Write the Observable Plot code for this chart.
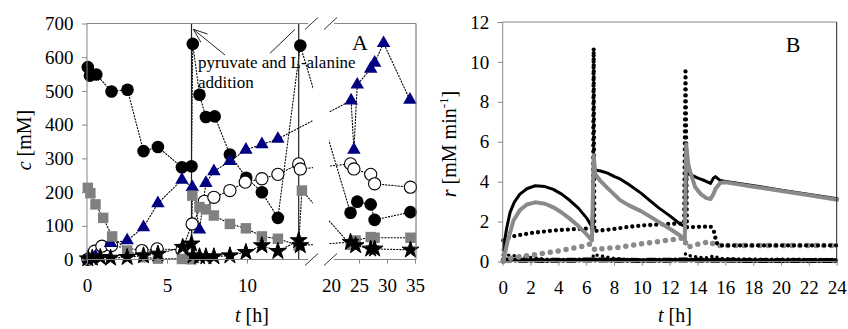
<!DOCTYPE html>
<html><head><meta charset="utf-8">
<script src="https://cdn.jsdelivr.net/npm/d3@7"></script>
<script src="https://cdn.jsdelivr.net/npm/@observablehq/plot@0.6"></script>
<style>
html,body{margin:0;padding:0;background:#fff;}
#wrap{position:relative;width:848px;height:329px;overflow:hidden;background:#fff;}
#wrap svg{position:absolute;top:0;background:transparent;}
</style></head><body><div id="wrap"></div>
<script>
// ---------- Panel A data (t in h, c in mM) ----------
const filledT = [0.02,0.15,0.55,1.5,2.5,3.5,4.4,5.9,6.5,6.58,7.0,7.4,7.95,8.9,9.92,10.9,11.9,13.3,23.4,24.6,27.0,27.7,34.1];
const filledC = [572,547,550,500,505,323,335,275,278,641,490,424,426,313,244,201,125,636,140,173,165,119,142];
const openT = [0.02,0.44,0.9,1.5,3.4,4.35,5.9,6.54,7.3,7.9,8.9,9.86,10.9,11.9,13.2,13.3,23.4,24.0,27.0,27.7,34.1];
const openC = [2,26,41,43,28,33,30,107,174,186,206,231,241,254,285,270,285,270,254,226,216];
const triT = [0.08,0.5,1.44,2.48,3.5,4.4,5.9,6.55,7.0,7.4,7.9,8.9,9.9,10.9,11.9,23.5,24.0,24.6,27.0,27.7,29.3,34.0];
const triC = [4,10,50,58,97,168,238,216,90,228,263,293,327,343,359,473,327,520,567,585,643,475];
const sqT = [0.02,0.18,0.5,0.98,1.54,2.48,3.5,4.4,5.9,6.5,6.55,7.0,7.4,7.9,8.9,9.9,10.9,11.9,13.2,13.4,23.4,24.3,27.0,27.7,34.1];
const sqC = [214,198,165,125,70,28,8,4,3,2,191,157,150,132,107,94,70,63,43,206,45,58,68,66,66];
const starT = [0.02,0.3,0.8,1.44,2.48,3.5,4.4,5.95,6.5,6.6,7.0,7.4,7.9,8.9,9.9,10.9,11.9,13.2,13.3,23.4,24.3,27.0,27.7,34.1];
const starC = [4,6,8,6,8,13,18,38,48,13,10,10,10,13,23,43,26,58,43,53,43,33,33,30];
const additionT = [6.5, 13.2];
const xTicksA = [0,5,10,20,25,30,35];
const yTicksA = [0,100,200,300,400,500,600,700];

// ---------- Panel B data (t in h, r in mM/min) ----------
const blackSolidT = [0,0.25,0.5,0.8,1.2,1.7,2.3,3.0,3.6,4.2,4.8,5.4,6.0,6.38,6.52,6.7,7.0,7.5,8.0,8.4,9.0,9.9,10.5,11.2,12.0,12.7,13.05,13.2,13.45,14.0,14.5,14.9,15.1,15.25,15.6,16,18,20,22,24];
const blackSolidR = [0.6,1.7,2.5,3.0,3.4,3.67,3.82,3.78,3.64,3.4,3.08,2.7,2.2,1.76,4.62,4.6,4.56,4.45,4.28,4.16,3.9,3.45,3.1,2.7,2.3,1.91,1.78,4.45,4.38,4.2,4.07,3.94,4.2,4.28,4.08,4.04,3.82,3.6,3.38,3.17];
const graySolidT = [0,0.3,0.74,1.2,1.7,2.3,3.0,3.6,4.2,4.8,5.4,6.0,6.38,6.5,6.62,7.0,7.5,8.4,9.0,9.9,10.5,11.2,12.0,12.7,13.05,13.15,13.3,13.45,13.8,14.2,14.6,14.9,15.1,15.25,15.6,16,18,20,22,24];
const graySolidR = [0,1.0,2.08,2.6,2.88,2.99,2.92,2.74,2.48,2.16,1.8,1.38,1.08,5.35,4.4,4.05,3.7,3.1,2.85,2.55,2.3,2.0,1.65,1.33,1.12,5.9,4.9,4.49,3.74,3.4,3.2,3.16,3.4,3.66,3.97,3.99,3.77,3.56,3.34,3.12];
const blackDotT = [0,0.5,1,2,3,4,5,6,6.45,6.5,6.55,7,8,9,10,11,12,13,13.1,13.2,14,14.9,15.1,15.2,15.3,15.5,18,21,24];
const blackDotR = [1.08,1.25,1.33,1.45,1.53,1.6,1.64,1.67,1.68,10.7,1.55,1.58,1.66,1.76,1.83,1.87,1.91,1.93,9.55,1.74,1.76,1.78,1.6,1.41,0.99,0.83,0.83,0.83,0.83];
const grayDotT = [0,0.5,1.2,2,3,4,4.8,5.7,6.3,6.6,7,8.4,9.6,10.8,12,13,13.2,14.1,14.9,15.2,18,21,24];
const grayDotR = [0.05,0.18,0.26,0.34,0.45,0.56,0.66,0.78,0.91,0.6,0.66,0.74,0.88,0.99,1.11,1.21,0.74,0.91,1.03,0.83,0.83,0.83,0.83];
const smallDotT = [0,0.5,1,2,3,4,6.4,6.5,7,8,9,10,13,13.1,13.5,14.5,15.2,15.5,17,24];
const smallDotR = [0.35,0.33,0.3,0.22,0.15,0.1,0.08,0.38,0.3,0.18,0.12,0.1,0.1,0.42,0.3,0.2,0.3,0.18,0.15,0.12];
const dashDotT = [0,3,6.5,10,13.1,17,24];
const dashDotR = [0.1,0.08,0.1,0.08,0.1,0.08,0.08];
const xTicksB = [0,2,4,6,8,10,12,14,16,18,20,22,24];
const yTicksB = [0,2,4,6,8,10,12];

// ---------- helpers ----------
const SERIF = '"Liberation Serif", "Times New Roman", serif';
const AX = "#858585";
const rows = (T, V) => T.map((t, i) => ({t, v: V[i]}));
const deco = fn => (index, scales, values, dims) => { const g = d3.create("svg:g").attr("text-anchor", "start"); fn(g, scales, dims); return g.node(); };
const line = (g, x1, y1, x2, y2, stroke, w = 1) => g.append("line").attr("x1", x1).attr("y1", y1).attr("x2", x2).attr("y2", y2).attr("stroke", stroke).attr("stroke-width", w);

// ---------- Panel A ----------
const dotted = {x: "t", y: "v", stroke: "black", strokeWidth: 1.1, strokeDasharray: "1.2,1.9"};
const plotA = Plot.plot({
  width: 424, height: 329, marginTop: 23.5, marginBottom: 69.5, marginLeft: 87, marginRight: 9,
  style: {fontFamily: SERIF, background: "transparent", overflow: "visible"},
  x: {type: "linear", domain: [0, 13.75, 19, 35], range: [87, 307, 325.4, 415], label: null},
  y: {domain: [0, 700], label: null},
  marks: [
    Plot.line(rows(filledT, filledC), dotted),
    Plot.line(rows(openT, openC), dotted),
    Plot.line(rows(triT, triC), dotted),
    Plot.line(rows(sqT, sqC), dotted),
    Plot.line(rows(starT, starC), dotted),
    // white gap of the broken axis
    deco((g) => { g.append("rect").attr("x", 313).attr("y", 10).attr("width", 16).attr("height", 262).attr("fill", "white"); }),
    Plot.ruleX(additionT, {y1: 0, y2: 700, stroke: "#222", strokeWidth: 1.2}),
    Plot.dot(rows(filledT, filledC), {x: "t", y: "v", r: 6.3, fill: "black"}),
    Plot.dot(rows(openT, openC), {x: "t", y: "v", r: 6.1, fill: "white", stroke: "black", strokeWidth: 1.1}),
    Plot.dot(rows(triT, triC), {x: "t", y: "v", r: 5, symbol: "triangle", fill: "#000080"}),
    Plot.dot(rows(sqT, sqC), {x: "t", y: "v", r: 5.9, symbol: "square", fill: "#808080"}),
    Plot.dot(rows(starT, starC), {x: "t", y: "v", r: 5.3, symbol: "star", fill: "black", stroke: "black", strokeWidth: 1}),
    deco((g, s) => {
      const yb = s.y(0), yt = s.y(700), xl = s.x(0);
      line(g, xl, yt, xl, yb, AX);
      line(g, xl, yb, 308, yb, AX); line(g, 334, yb, 416, yb, AX);
      line(g, xl, yt, 308, yt, AX); line(g, 334, yt, 416, yt, AX);
      line(g, 416, yt, 416, yb, "#666");
      for (const cx of [311.5, 330.5]) for (const cy of [yb, yt]) line(g, cx - 6.5, cy + 6, cx + 6.5, cy - 6, "#333");
      // annotation
      const t = g.append("text").attr("font-family", SERIF).attr("font-size", 17).attr("fill", "black").attr("text-anchor", "start");
      t.append("tspan").attr("x", 198).attr("y", 68).text("pyruvate and L-alanine");
      t.append("tspan").attr("x", 198).attr("y", 88).text("addition");
      line(g, 225, 55, 193.3, 29.3, "#222", 1);
      const ang = Math.atan2(55 - 29.3, 225 - 193.3);
      for (const d of [-0.36, 0.36]) line(g, 193.3, 29.3, 193.3 + 15 * Math.cos(ang + d), 29.3 + 15 * Math.sin(ang + d), "#222", 1);
      line(g, 270, 53.3, 295, 29.3, "#222", 1);
      g.append("text").attr("x", 360).attr("y", 50).attr("text-anchor", "middle").attr("font-family", SERIF).attr("font-size", 22).text("A");
      // axis titles
      const yl = g.append("text").attr("transform", "translate(31,140) rotate(-90)").attr("text-anchor", "middle").attr("font-family", SERIF).attr("font-size", 20);
      yl.append("tspan").attr("font-style", "italic").text("c");
      yl.append("tspan").text(" [mM]");
      const xlb = g.append("text").attr("x", 252).attr("y", 322).attr("text-anchor", "middle").attr("font-family", SERIF).attr("font-size", 20);
      xlb.append("tspan").attr("font-style", "italic").text("t");
      xlb.append("tspan").text(" [h]");
    }),
    Plot.axisY({ticks: yTicksA, tickSize: 5, tickPadding: 9, fontSize: 19, stroke: AX, fill: "black", label: null}),
    Plot.axisX({ticks: xTicksA.filter(d => d !== 20), tickSize: 4, tickFormat: () => "", stroke: AX, label: null}),
    Plot.axisX({ticks: xTicksA, tickSize: 4, tickPadding: 14.5, fontSize: 19, stroke: "none", fill: "black", label: null})
  ]
});

// ---------- Panel B ----------
const L = (T, V, o) => Plot.line(rows(T, V), {x: "t", y: "v", strokeLinecap: "round", strokeLinejoin: "round", ...o});
const plotB = Plot.plot({
  width: 424, height: 329, marginTop: 22, marginBottom: 67.5, marginLeft: 78.7, marginRight: 11.3,
  style: {fontFamily: SERIF, background: "transparent", overflow: "visible"},
  x: {domain: [0, 24], label: null},
  y: {domain: [0, 12], label: null},
  marks: [
    L(dashDotT, dashDotR, {stroke: "black", strokeWidth: 5, strokeDasharray: "8,4,0,4"}),
    L(smallDotT, smallDotR, {stroke: "black", strokeWidth: 3.5, strokeDasharray: "0,5.5"}),
    L(grayDotT, grayDotR, {stroke: "#8a8a8a", strokeWidth: 5.5, strokeDasharray: "0,8"}),
    L(blackDotT, blackDotR, {stroke: "black", strokeWidth: 4.3, strokeDasharray: "0,6"}),
    L(blackSolidT, blackSolidR, {stroke: "black", strokeWidth: 3}),
    L(graySolidT, graySolidR, {stroke: "#8a8a8a", strokeWidth: 4}),
    deco((g, s) => {
      const yb = s.y(0), yt = s.y(12), xl = s.x(0), xr = s.x(24);
      line(g, xl, yt, xl, yb, AX);
      line(g, xl, yb, xr, yb, AX);
      line(g, xl, yt, xr, yt, AX);
      line(g, xr, yt, xr, yb, "#222");
      g.append("text").attr("x", 369).attr("y", 52).attr("text-anchor", "middle").attr("font-family", SERIF).attr("font-size", 22).text("B");
      const yl = g.append("text").attr("transform", "translate(32,144) rotate(-90)").attr("text-anchor", "middle").attr("font-family", SERIF).attr("font-size", 20);
      yl.append("tspan").attr("font-style", "italic").text("r");
      yl.append("tspan").text(" [mM min");
      yl.append("tspan").attr("font-size", 13).attr("dy", -8).text("-1");
      yl.append("tspan").attr("dy", 8).text("]");
      const xlb = g.append("text").attr("x", 251).attr("y", 322).attr("text-anchor", "middle").attr("font-family", SERIF).attr("font-size", 20);
      xlb.append("tspan").attr("font-style", "italic").text("t");
      xlb.append("tspan").text(" [h]");
    }),
    Plot.axisY({ticks: yTicksB, tickSize: 5, tickPadding: 9, fontSize: 19, stroke: AX, fill: "black", label: null}),
    Plot.axisX({ticks: xTicksB, tickSize: 4, tickPadding: 14.5, fontSize: 19, stroke: AX, fill: "black", label: null})
  ]
});

const wrap = document.getElementById("wrap");
plotA.style.left = "0px";
plotB.style.left = "424px";
wrap.append(plotA, plotB);
</script>
</body></html>
